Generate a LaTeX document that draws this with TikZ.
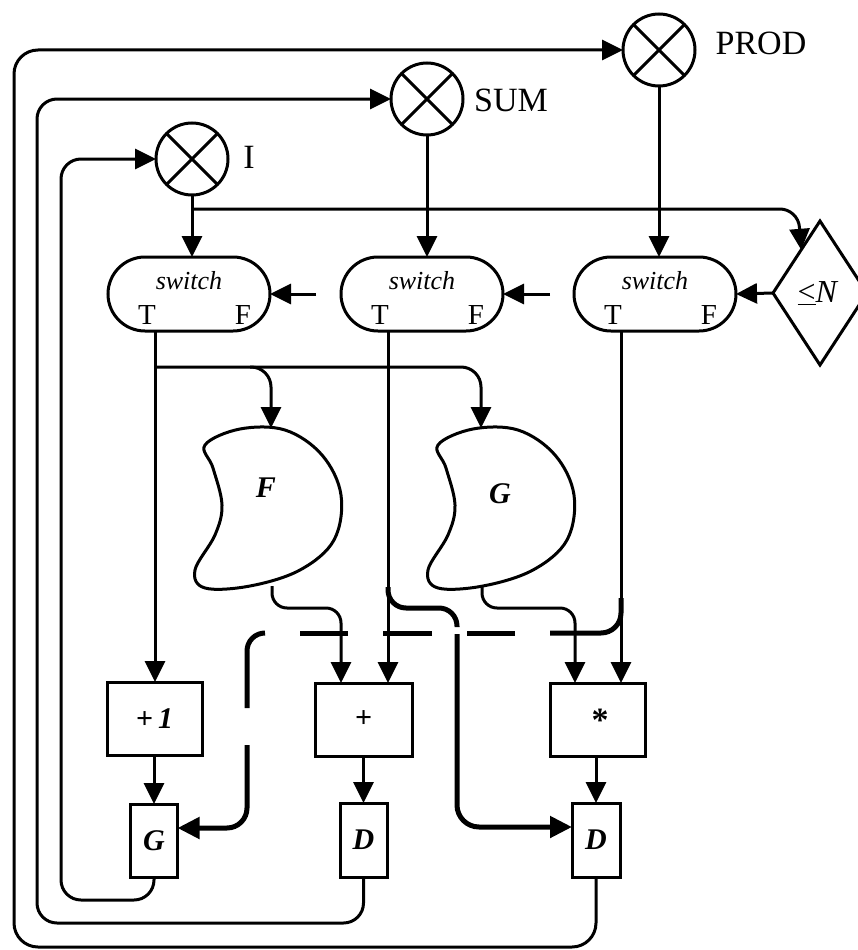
\documentclass[tikz,border=0pt]{standalone}
\usepackage{fontspec}
\setmainfont{Liberation Serif}
\usetikzlibrary{arrows.meta,shapes.geometric,shapes.misc,calc}
\begin{document}
\begin{tikzpicture}[x=1pt,y=-1pt,
  ln/.style={line width=3pt},
  arr/.style={ln,-{Triangle[length=21pt,width=20pt]}},
  thk/.style={line width=5pt},
  thkarr/.style={thk,-{Triangle[length=22pt,width=21pt]}},
  xcirc/.style={circle,draw,ln,minimum size=72pt,inner sep=0pt,outer sep=0pt},
  swbox/.style={rounded rectangle,draw,ln,minimum width=162pt,minimum height=74pt,inner sep=0pt,outer sep=0pt},
  opbox/.style={rectangle,draw,ln,inner sep=0pt,outer sep=0pt},
  lbl/.style={font=\fontsize{34}{40}\selectfont,inner sep=0pt},
  swt/.style={font=\fontsize{26}{30}\selectfont\itshape,inner sep=0pt},
  tf/.style={font=\fontsize{29}{34}\selectfont,inner sep=0pt},
  btx/.style={font=\fontsize{30}{36}\selectfont\bfseries\itshape,inner sep=0pt},
  bean/.style={ln}
]
\useasboundingbox (0,0) rectangle (857,950);

% accumulator circles
\node[xcirc] (I) at (192,159) {};
\node[xcirc] (SUM) at (427,99) {};
\node[xcirc] (PROD) at (659,50) {};
\foreach \n in {I,SUM,PROD}
  \draw[ln] (\n.45) -- (\n.225) (\n.135) -- (\n.315);
\node[lbl] (Il) at (249,157) {I};
\node[lbl] (SUMl) at (511,100) {SUM};
\node[lbl] (PRODl) at (761,43) {PROD};

% switches
\node[swbox] (s1) at (189,294) {};
\node[swbox] (s2) at (422,294) {};
\node[swbox] (s3) at (655,294) {};
\foreach \s in {s1,s2,s3}{
  \node[swt] at ($(\s.center)+(0,-13)$) {switch};
  \node[tf] at ($(\s.center)+(-42,21)$) {T};
  \node[tf] at ($(\s.center)+(54,21)$) {F};
}

% decision
\node[diamond,draw,ln,minimum width=94pt,minimum height=144pt,inner sep=0pt,outer sep=0pt] (dm) at (820,293) {};
\node[font=\fontsize{32}{36}\selectfont,inner sep=0pt] (dml) at (818,293) {\underline{<}\textit{N}};

% control stubs
\coordinate (c1) at (316,294);
\coordinate (c2) at (550,294);
\draw[arr] (c1) -- (s1.east);
\draw[arr] (c2) -- (s2.east);
\draw[arr] (dm.west) -- (s3.east);

% circles to switches
\draw[arr] (I.south) -- (I.south |- s1.north);
\draw[arr] (SUM.south) -- (SUM.south |- s2.north);
\draw[arr] (PROD.south) -- (PROD.south |- s3.north);
\coordinate (jI) at (192,209);
\draw[arr,rounded corners=18pt] (jI) -- (798,209) -- ($(dm.west)!0.6!(dm.north)$);

% operator boxes
\node[opbox,minimum width=95pt,minimum height=73pt,btx] (p1) at (154.5,718.5) {+\,1};
\node[opbox,minimum width=97pt,minimum height=73pt,btx] (pl) at (363.5,719.5) {+};
\node[opbox,minimum width=95pt,minimum height=73pt] (ml) at (597.5,719.5) {};
\node[btx,font=\fontsize{34}{40}\selectfont\bfseries] (mls) at (600,720) {*};
\node[opbox,minimum width=47pt,minimum height=73pt,btx] (Gb) at (154,840.5) {G};
\node[opbox,minimum width=47pt,minimum height=74pt,btx] (Dm) at (363.5,840) {D};
\node[opbox,minimum width=48pt,minimum height=74pt,btx] (Dr) at (596,840) {D};

% switch T outputs
\coordinate (t1) at ($(s1.south)+(-34,0)$);
\coordinate (t2) at ($(s2.south)+(-34,0)$);
\coordinate (t3) at ($(s3.south)+(-34,0)$);
\draw[arr] (t1) -- (t1 |- p1.north);
\draw[arr] (t2) -- (t2 |- pl.north);
\draw[arr] (t3) -- (t3 |- ml.north);

% function shapes
\foreach \dx in {0,233}{
  \begin{scope}[shift={(\dx,0)}]
  \draw[bean] plot[smooth cycle,tension=0.6] coordinates {
    (205,445) (240,429) (285,430) (322,455) (341,495) (334,540)
    (300,570) (250,586) (205,588) (195,570) (215,535) (222,505) (213,468)};
  \end{scope}
}
\node[btx] (Fl) at (266,488) {F};
\node[btx] (Gl) at (500,494) {G};

% branches to F and G
\coordinate (b1) at (155,367);
\coordinate (bF) at (250,367);
\draw[arr,rounded corners=20pt] (b1) -- (481,367) -- (481,428);
\draw[arr,rounded corners=20pt] (bF) -- (271,367) -- (271,428);

% F and G outputs
\coordinate (Fo) at (272,586);
\coordinate (Go) at (482,587);
\draw[arr,rounded corners=15pt] (Fo) -- (272,608) -- (341,608) -- ($(pl.north)+(-22.5,0)$);
\draw[arr,rounded corners=15pt] (Go) -- (482,608) -- (575,608) -- ($(ml.north)+(-22.5,0)$);

% box chain
\draw[arr] (Gb.north |- p1.south) -- (Gb.north);
\draw[arr] (Dm.north |- pl.south) -- (Dm.north);
\draw[arr] (Dr.north |- ml.south) -- (Dr.north);

% thick path from switch 2 to right D
\draw[thk,rounded corners=18pt] (388,587) -- (388,608) -- (457,608) -- (457,627);
\draw[thkarr,rounded corners=22pt] (457,634) -- (457,827) -- ([yshift=13pt]Dr.west);

% thick dashed path from switch 3 to G box
\draw[thk,rounded corners=20pt] (621,598) -- (621,633) -- (550,633);
\draw[thk] (515,633) -- (467,633);
\draw[thk] (432,633) -- (383,633);
\draw[thk] (348,633) -- (300,633);
\draw[thk,rounded corners=18pt] (265,633) -- (247,633) -- (247,708);
\draw[thkarr,rounded corners=20pt] (247,745) -- (247,828) -- ([yshift=12.5pt]Gb.east);

% feedback loops
\draw[arr,rounded corners=20pt] (Gb.south) -- (154,900) -- (61,900) -- (61,159) -- (I.west);
\draw[arr,rounded corners=20pt] (Dm.south) -- (363.5,923) -- (37,923) -- (37,99) -- (SUM.west);
\draw[arr,rounded corners=24pt] (Dr.south) -- (596,947) -- (14,947) -- (14,50) -- (PROD.west);
\end{tikzpicture}
\end{document}
